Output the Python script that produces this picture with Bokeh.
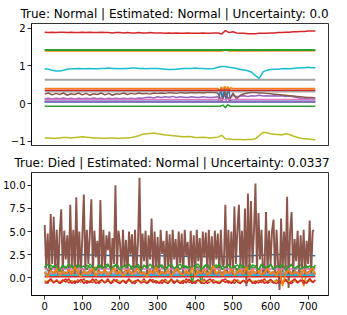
from bokeh.plotting import figure
from bokeh.layouts import column
from bokeh.models import Range1d, FixedTicker
from bokeh.embed import file_html
from bokeh.resources import INLINE

# ---------------- colours (matplotlib tab10 cycle) ----------------
C_BLUE, C_ORANGE, C_GREEN, C_RED, C_PURPLE = "#1f77b4", "#ff7f0e", "#2ca02c", "#d62728", "#9467bd"
C_BROWN, C_PINK, C_GRAY, C_OLIVE, C_CYAN = "#8c564b", "#e377c2", "#7f7f7f", "#bcbd22", "#17becf"

TITLE_TOP = "True: Normal | Estimated: Normal | Uncertainty: 0.0"
TITLE_BOTTOM = "True: Died | Estimated: Normal | Uncertainty: 0.0337"

X_ENDS = [0, 719]
X10 = list(range(0, 720, 10)) + [719]          # 73 time steps
X8 = list(range(0, 720, 8)) + [719]            # 91 time steps
X4 = list(range(0, 720, 4))                    # 180 time steps

# ---------------- top panel series ----------------
BLUE_TOP_X = [0, 462, 468, 472, 478, 482, 488, 494, 719]
BLUE_TOP = [0.06, 0.06, 0.42, 0.10, 0.43, 0.08, 0.42, 0.06, 0.06]

ORANGE_TOP_X = [0, 460, 466, 470, 474, 478, 482, 486, 490, 494, 500, 719]
ORANGE_TOP = [0.40, 0.40, 0.33, 0.44, 0.36, 0.46, 0.35, 0.45, 0.37, 0.42, 0.40, 0.40]

GREEN_LOW_X = [0, 466, 474, 480, 486, 494, 719]
GREEN_LOW = [-0.07, -0.07, -0.04, -0.11, -0.03, -0.07, -0.07]

RED_MID = [0.35, 0.35]

PURPLE_TOP = [0.13, 0.14, 0.12, 0.14, 0.13, 0.15, 0.13, 0.14, 0.12, 0.14, 0.13,
              0.14, 0.13, 0.15, 0.13, 0.14, 0.12, 0.14, 0.13, 0.14, 0.13,
              0.14, 0.13, 0.14, 0.13, 0.15, 0.14, 0.16, 0.17, 0.15, 0.18,
              0.16, 0.18, 0.17, 0.19, 0.16, 0.18, 0.17, 0.16, 0.18, 0.17,
              0.16, 0.18, 0.17, 0.16, 0.17, 0.18,
              0.10, 0.24, 0.12, 0.22, 0.18,
              0.20, 0.21, 0.19, 0.21, 0.20, 0.22, 0.20, 0.21, 0.20,
              0.21, 0.20, 0.21, 0.19, 0.20, 0.18, 0.16, 0.14, 0.13, 0.13, 0.12,
              0.12]

BROWN_TOP = [0.25, 0.28, 0.23, 0.27, 0.24, 0.28, 0.22, 0.26, 0.24, 0.28, 0.23,
             0.27, 0.22, 0.26, 0.24, 0.28, 0.23, 0.27, 0.22, 0.26, 0.25,
             0.28, 0.24, 0.27, 0.25, 0.28, 0.26, 0.27, 0.25, 0.28, 0.27,
             0.28, 0.27, 0.29, 0.28, 0.27, 0.29, 0.28, 0.28, 0.29, 0.28,
             0.29, 0.28, 0.29, 0.30, 0.29, 0.28,
             0.05, 0.30, 0.08, 0.28, 0.12,
             0.22, 0.26, 0.28, 0.29, 0.29, 0.28, 0.28, 0.27, 0.26,
             0.25, 0.24, 0.23, 0.22, 0.21, 0.20, 0.19, 0.18, 0.17, 0.16, 0.16,
             0.15]

PINK_TOP = [0.11, 0.11]
GRAY_TOP = [0.63, 0.63]

OLIVE_TOP = [-0.91, -0.91, -0.92, -0.92, -0.91, -0.90, -0.90, -0.91, -0.90, -0.89, -0.88,
             -0.89, -0.90, -0.91, -0.91, -0.92, -0.92, -0.91, -0.91, -0.92, -0.92,
             -0.91, -0.91, -0.90, -0.88, -0.85, -0.81, -0.80, -0.79, -0.78, -0.80,
             -0.81, -0.83, -0.84, -0.85, -0.86, -0.87, -0.88, -0.87, -0.88, -0.90,
             -0.90, -0.89, -0.90, -0.91, -0.90, -0.89,
             -0.84, -0.93, -0.94, -0.95, -0.95,
             -0.95, -0.96, -0.95, -0.95, -0.93, -0.85, -0.76, -0.77, -0.80,
             -0.81, -0.82, -0.83, -0.80, -0.82, -0.86, -0.89, -0.92, -0.93, -0.94, -0.95,
             -0.96]

CYAN_TOP = [0.92, 0.91, 0.88, 0.86, 0.86, 0.88, 0.91, 0.92, 0.92, 0.93, 0.92,
            0.92, 0.93, 0.92, 0.92, 0.93, 0.93, 0.94, 0.93, 0.93, 0.92,
            0.93, 0.93, 0.94, 0.94, 0.93, 0.93, 0.92, 0.93, 0.93, 0.93,
            0.92, 0.91, 0.90, 0.90, 0.91, 0.92, 0.93, 0.93, 0.93, 0.94,
            0.93, 0.93, 0.92, 0.92, 0.93, 0.96,
            0.98, 0.98, 0.96, 0.95, 0.93,
            0.90, 0.89, 0.87, 0.83, 0.74, 0.67, 0.84, 0.88, 0.90,
            0.91, 0.91, 0.92, 0.93, 0.92, 0.93, 0.94, 0.95, 0.95, 0.96, 0.95,
            0.95]

BLUE2_TOP = [0.04, 0.04]

ORANGE2_TOP_X = [0, 470, 480, 490, 719]
ORANGE2_TOP = [1.39, 1.39, 1.42, 1.39, 1.40]

GREEN2_TOP = [1.42, 1.42]

RED2_TOP = [1.89, 1.88, 1.89, 1.88, 1.89, 1.89, 1.88, 1.89, 1.88, 1.88, 1.89,
            1.88, 1.89, 1.88, 1.88, 1.89, 1.88, 1.88, 1.87, 1.88, 1.88,
            1.87, 1.88, 1.87, 1.87, 1.88, 1.87, 1.87, 1.88, 1.87, 1.87,
            1.87, 1.86, 1.87, 1.86, 1.87, 1.86, 1.86, 1.87, 1.86, 1.86,
            1.86, 1.87, 1.86, 1.86, 1.87, 1.87,
            1.84, 1.93, 1.88, 1.90, 1.87,
            1.86, 1.86, 1.85, 1.85, 1.85, 1.86, 1.86, 1.86, 1.87,
            1.87, 1.88, 1.88, 1.89, 1.89, 1.90, 1.90, 1.91, 1.91, 1.92, 1.92,
            1.92]

PURPLE2_TOP = [0.05, 0.05]
GRAY2_TOP = [0.31, 0.31]

# ---------------- bottom panel series ----------------
BLUE_BOT_X = [0, 100, 200, 300, 400, 500, 600, 650, 719]
BLUE_BOT = [2.50, 2.50, 2.40, 2.40, 2.30, 2.30, 2.50, 2.55, 2.40]

ORANGE_BOT = [0.6, 0.2, 0.9, 0.4, 0.7, 1.1, 0.3, 0.6, 0.1, 0.8, 0.5, 1.0, 0.2, 0.7, 0.4, 0.9, 0.3, 1.2, 0.5, 0.1,
              0.8, 0.4, 0.6, 1.0, 0.2, 0.7, 0.5, 0.9, 0.3, 0.6, 1.1, 0.4, 0.8, 0.2, 0.5, 0.9, 0.3, 0.7, 1.0, 0.4,
              0.6, 0.1, 0.8, 0.5, 1.2, 0.3, 0.7, 0.4, 0.9, 0.2, 0.6, 1.0, 0.5, 0.3, 0.8, 0.4, 1.1, 0.2, 0.7, 0.5,
              0.9, 0.3, 0.6, 1.3, 0.4, 0.8, 0.2, 0.7, 0.5, 1.0, 0.3, 0.6, 0.9, 0.4, 1.2, 0.2, 0.7, 0.5, 0.8, 0.3,
              0.6, 1.0, 0.4, 0.7, 0.2, 0.9, -0.9, 0.5, 0.8, 0.4, 0.6]

GREEN_BOT = [1.3, 0.8, 1.4, 1.1, 1.5, 0.9, 1.3, 1.2, 0.7, 1.4, 1.0, 1.5, 1.2, 0.8, 1.4, 1.1, 1.3, 0.9, 1.5, 1.2,
             0.8, 1.4, 1.0, 1.3, 1.5, 0.9, 1.2, 1.4, 0.7, 1.3, 1.1, 1.5, 0.9, 1.3, 1.2, 0.8, 1.4, 1.0, 1.5, 1.1,
             0.9, 1.3, 1.4, 0.8, 1.2, 1.5, 1.0, 1.3, 0.9, 1.4, 1.1, 1.2, -0.65, 1.3, 1.5, 0.9, 1.2, 1.4, 0.8, 1.3,
             1.1, 1.5, 0.9, 1.2, 1.4, 1.0, 1.3, 0.8, 1.5, 1.1, 1.2, 0.9, 1.4, 1.3, 0.8, 1.5, 1.0, 1.2, 1.4, 0.9,
             1.3, 1.1, 1.5, 0.8, 1.2, 1.4, 1.0, 1.3, 0.9, 1.2, 1.1]

RED_BOT = [-0.3, -0.6, -0.1, -0.5, -0.2, -0.6, -0.4, -0.1, -0.55, -0.3, -0.6, -0.2, -0.45, -0.1, -0.6, -0.35, -0.5, -0.15, -0.6, -0.3,
           -0.5, -0.1, -0.6, -0.4, -0.2, -0.55, -0.3, -0.6, -0.15, -0.45, -0.6, -0.25, -0.5, -0.1, -0.6, -0.35, -0.2, -0.55, -0.4, -0.6,
           -0.15, -0.5, -0.3, -0.6, -0.2, -0.45, -0.6, -0.1, -0.5, -0.35, -0.6, -0.25, -0.55, -0.15, -0.6, -0.4, -0.2, -0.5, -0.6, -0.3,
           -0.1, -0.55, -0.4, -0.6, -0.2, -0.5, -0.3, -0.6, -0.15, -0.45, -0.6, -0.25, -0.5, -0.1, -0.6, -0.35, -0.55, -0.2, -0.6, -0.4,
           -0.15, -0.5, -0.6, -0.3, -0.55, -0.2, -0.6, -0.4, -0.1, -0.5, -0.3]

PURPLE_BOT = [0.43, 0.43]

BROWN_BOT = [5.7, 1.0, 4.8, 0.4, 6.9, 1.5, 6.6, 0.8, 5.2, 0.3,
             4.9, 7.4, 0.6, 5.1, 2.0, 4.6, 0.5, 7.9, 1.2, 5.2,
             0.4, 8.7, 1.0, 5.0, 0.3, 4.4, 9.0, 0.8, 5.2, 1.5,
             4.8, 8.5, 0.5, 5.1, 2.2, 4.0, 0.6, 8.4, 1.0, 5.2,
             0.8, 4.6, 3.0, 5.0, 0.4, 4.3, 1.5, 10.0, 0.6, 5.1,
             3.8, 0.5, 5.2, 1.2, 4.1, 0.3, 5.0, 2.5, 4.7, 0.6,
             5.2, 1.0, 3.9, 10.8, 0.5, 4.8, 1.8, 5.1, 0.4, 4.6,
             2.0, 6.4, 0.6, 5.0, 1.1, 4.4, 0.3, 5.2, 2.6, 4.0,
             0.5, 5.1, 1.3, 4.7, 0.4, 5.2, 2.0, 4.2, 0.7, 5.0,
             1.6, 4.8, 0.3, 5.2, 2.4, 3.9, 0.5, 5.1, 1.0, 4.6,
             0.2, 5.2, 1.8, 4.3, 0.4, 5.0, 2.2, 4.9, 0.6, 5.2,
             1.1, 4.5, 0.3, 5.1, 2.0, 4.8, 0.5, 5.2, 1.4, 1.4,
             7.9, 0.6, 5.2, 1.0, 5.0, 0.2, 7.7, 1.5, 5.2, 7.9,
             1.2, 5.1, 0.3, 7.5, -0.9, 9.1, 0.8, 8.3, 1.6, 5.0,
             10.2, 0.4, 7.0, 2.0, 5.2, 0.3, 1.0, 7.1, 0.5, 5.1,
             1.4, 5.1, 6.3, 0.2, 5.2, 1.6, -1.3, 6.4, 0.6, 5.0,
             0.8, 8.75, -1.1, 5.0, 7.1, 0.3, 4.2, 1.8, 5.1, 0.4,
             4.6, 1.0, 5.2, 0.3, 4.0, 1.5, 6.2, 0.5, 5.1, 5.1]

PINK_BOT = [0.95, 0.95]
GRAY_BOT = [0.65, 0.65]
OLIVE_BOT = [-0.35, -0.35]
CYAN_BOT = [0.28, 0.28]
RED2_BOT = [0.12, 0.12]

FONT = "DejaVu Sans"
FRAME_W = 297


def style(p, title, title_offset):
    p.title.text = title
    p.title.text_font = FONT
    p.title.text_font_size = "12px"
    p.title.text_font_style = "normal"
    p.title.text_color = "black"
    p.title.align = "left"
    p.title.offset = title_offset
    p.title.standoff = 6
    p.outline_line_color = "black"
    p.outline_line_width = 0.8
    p.xgrid.visible = False
    p.ygrid.visible = False
    p.background_fill_color = "white"
    p.border_fill_color = "white"
    for ax in p.axis:
        ax.axis_line_color = "black"
        ax.axis_line_width = 0.8
        ax.major_tick_line_color = "black"
        ax.major_tick_line_width = 0.8
        ax.major_tick_out = 4
        ax.major_tick_in = 0
        ax.minor_tick_out = 0
        ax.minor_tick_in = 0
        ax.major_label_text_font = FONT
        ax.major_label_text_font_size = "10px"
        ax.major_label_text_color = "black"
        ax.major_label_standoff = 2


def draw(p, xs, ys, color, width=1.5, alpha=1.0):
    n = min(len(xs), len(ys))
    p.line(xs[:n], ys[:n], line_color=color, line_width=width, line_alpha=alpha)


top = figure(frame_width=FRAME_W, frame_height=122, output_backend="svg", toolbar_location=None,
             x_range=Range1d(-35, 754), y_range=Range1d(-1.11, 2.12),
             min_border_left=30, min_border_right=4, min_border_top=23, min_border_bottom=5)
style(top, TITLE_TOP, -11)
top.xaxis.visible = False
top.yaxis.ticker = FixedTicker(ticks=[-1, 0, 1, 2])
top.yaxis.major_label_overrides = {-1: "\u22121", 0: "0", 1: "1", 2: "2"}

draw(top, BLUE_TOP_X, BLUE_TOP, C_BLUE)
draw(top, ORANGE_TOP_X, ORANGE_TOP, C_ORANGE)
draw(top, GREEN_LOW_X, GREEN_LOW, C_GREEN)
draw(top, X_ENDS, RED_MID, C_RED)
draw(top, X10, PURPLE_TOP, C_PURPLE)
draw(top, X10, BROWN_TOP, C_BROWN)
draw(top, X_ENDS, PINK_TOP, C_PINK)
draw(top, X_ENDS, GRAY_TOP, C_GRAY, 2, 0.7)
draw(top, X10, OLIVE_TOP, C_OLIVE)
draw(top, X10, CYAN_TOP, C_CYAN)
draw(top, X_ENDS, BLUE2_TOP, C_BLUE)
draw(top, ORANGE2_TOP_X, ORANGE2_TOP, C_ORANGE)
draw(top, X_ENDS, GREEN2_TOP, C_GREEN, 2)
draw(top, X10, RED2_TOP, C_RED)
draw(top, X_ENDS, PURPLE2_TOP, C_PURPLE)
draw(top, X_ENDS, GRAY2_TOP, C_GRAY, 1.5, 0.7)

bot = figure(frame_width=FRAME_W, frame_height=123, output_backend="svg", toolbar_location=None,
             x_range=Range1d(-35, 754), y_range=Range1d(-1.9, 11.38),
             min_border_left=30, min_border_right=4, min_border_top=21, min_border_bottom=0)
style(bot, TITLE_BOTTOM, -17)
bot.yaxis.ticker = FixedTicker(ticks=[0, 2.5, 5, 7.5, 10])
bot.yaxis.major_label_overrides = {0: "0.0", 2.5: "2.5", 5: "5.0", 7.5: "7.5", 10: "10.0"}
bot.xaxis.ticker = FixedTicker(ticks=[0, 100, 200, 300, 400, 500, 600, 700])

draw(bot, BLUE_BOT_X, BLUE_BOT, C_BLUE)
draw(bot, X8, ORANGE_BOT, C_ORANGE)
draw(bot, X8, GREEN_BOT, C_GREEN)
draw(bot, X8, RED_BOT, C_RED)
draw(bot, X_ENDS, PURPLE_BOT, C_PURPLE)
draw(bot, X4, BROWN_BOT, C_BROWN, 1.9)
draw(bot, X_ENDS, PINK_BOT, C_PINK, 2, 0.8)
draw(bot, X_ENDS, GRAY_BOT, C_GRAY, 1.5, 0.7)
draw(bot, X_ENDS, OLIVE_BOT, C_OLIVE)
draw(bot, X_ENDS, CYAN_BOT, C_CYAN)
draw(bot, X8, GREEN_BOT[3:] + GREEN_BOT[:3], C_GREEN)
draw(bot, X8, RED_BOT[5:] + RED_BOT[:5], C_RED)
draw(bot, X_ENDS, RED2_BOT, C_RED)
draw(bot, X8, ORANGE_BOT[7:] + ORANGE_BOT[:7], C_ORANGE)

layout = column(top, bot, spacing=0)
open("out.html", "w").write(file_html(layout, INLINE))
